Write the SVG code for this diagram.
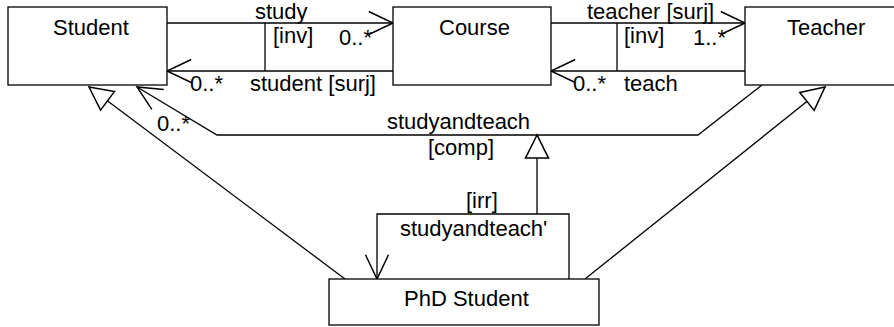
<svg xmlns="http://www.w3.org/2000/svg" width="894" height="327" viewBox="0 0 894 327">
<style>
.box{fill:#fff;stroke:#000;stroke-width:1.3}
.ln{fill:none;stroke:#000;stroke-width:1.3}
.t{font-family:"Liberation Sans",Arial,sans-serif;font-size:22px;fill:#000}
.nav{marker-end:url(#open)}
.gen{marker-end:url(#tri)}
</style>
<defs>
<marker id="open" markerUnits="userSpaceOnUse" markerWidth="30" markerHeight="30" viewBox="-24 -12 26 24" refX="0" refY="0" orient="auto" overflow="visible">
<path d="M-21,-10 L0,0 L-21,10" fill="none" stroke="#000" stroke-width="1.3"/>
</marker>
<marker id="tri" markerUnits="userSpaceOnUse" markerWidth="30" markerHeight="30" viewBox="-24 -12 26 24" refX="0" refY="0" orient="auto" overflow="visible">
<path d="M0,0 L-20,-10 L-20,10 Z" fill="#fff" stroke="#000" stroke-width="1.3"/>
</marker>
</defs>
<rect width="894" height="327" fill="#fff"/>
<g id="connectors">
<path class="ln nav" d="M167,23 H393"/>
<path class="ln nav" d="M393,71 H167"/>
<path class="ln" d="M265,23 V71"/>
<path class="ln nav" d="M551,23 H745"/>
<path class="ln nav" d="M745,71 H551"/>
<path class="ln" d="M617,23 V71"/>
<path class="ln nav" d="M762,85 L698,135 H217 L137,87"/>
<path class="ln gen" d="M345,279 L89,87"/>
<path class="ln gen" d="M585,279 L825,87"/>
<path class="ln gen" d="M537,214 V135"/>
<path class="ln nav" d="M569,279 V214 H377 V279"/>
<text class="t" x="255" y="19">study</text>
<text class="t" x="273" y="43">[inv]</text>
<text class="t" x="339" y="45">0..*</text>
<text class="t" x="250" y="91">student [surj]</text>
<text class="t" x="190" y="91">0..*</text>
<text class="t" x="587" y="19">teacher [surj]</text>
<text class="t" x="624" y="43">[inv]</text>
<text class="t" x="693" y="45">1..*</text>
<text class="t" x="573" y="91">0..*</text>
<text class="t" x="624" y="91">teach</text>
<text class="t" x="387" y="129">studyandteach</text>
<text class="t" x="428" y="155">[comp]</text>
<text class="t" x="157" y="131">0..*</text>
<text class="t" x="466" y="208">[irr]</text>
<text class="t" x="400" y="236">studyandteach'</text>
</g>
<g id="student">
<rect class="box" x="8" y="7" width="159" height="78"/>
<text class="t" x="53" y="35">Student</text>
</g>
<g id="course">
<rect class="box" x="393" y="7" width="158" height="78"/>
<text class="t" x="439" y="35">Course</text>
</g>
<g id="teacher">
<rect class="box" x="745" y="7" width="160" height="78"/>
<text class="t" x="787" y="35">Teacher</text>
</g>
<g id="phd-student">
<rect class="box" x="329" y="279" width="270" height="46"/>
<text class="t" x="404" y="306">PhD Student</text>
</g>
</svg>
